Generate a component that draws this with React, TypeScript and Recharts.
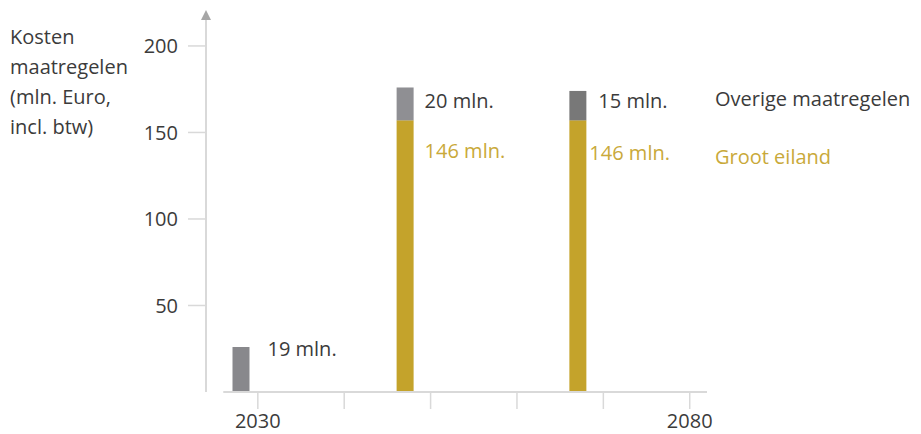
import React from 'react';
import { BarChart, Bar, XAxis, YAxis, Cell, LabelList, ReferenceLine, ReferenceDot } from 'recharts';

const years = [2028, 2047, 2067];
const grootEiland = [0, 157, 157];
const overige = [26, 19, 17];
const grootLabels = ['', '146 mln.', '146 mln.'];
const overigeLabels = ['19 mln.', '20 mln.', '15 mln.'];
const xTicks = [2030, 2040, 2050, 2060, 2070, 2080];
const xTickLabels = ['2030', '', '', '', '', '2080'];
const yTicks = [50, 100, 150, 200];
const yTitle = ['Kosten', 'maatregelen', '(mln. Euro,', 'incl. btw)'];
const seriesNames = ['Overige maatregelen', 'Groot eiland'];

const data = years.map((year, i) => ({
  year,
  groot: grootEiland[i],
  overige: overige[i],
  grootLabel: grootLabels[i],
  overigeLabel: overigeLabels[i],
}));

const FONT = '"Open Sans", Lato, sans-serif';
const FS = 20;
const TEXT = '#3b3b3b';
const GOLD_TEXT = '#c9a93a';
const GOLD = '#c4a32b';
const GRAYS = ['#88888c', '#8f8f93', '#787878'];
const AXIS = '#d9d9d9';

// label placement tweaks (style only), by bar position
const OVERIGE_DX = [18, 11, 12];
const OVERIGE_DY = [1, 13, 10];
const GROOT_DX = [0, 11, 3];
const GROOT_DY = [0, 30, 32];

const makeLabel = (color: string, labels: string[], dxs: number[], dys: number[]) => (props: any) => {
  const { x, y, width, value } = props;
  if (!value) return null;
  let i = -1;
  if (props.payload && props.payload.year !== undefined) i = years.indexOf(props.payload.year);
  if (i < 0) {
    const nonEmpty = labels.map((l, k) => (l ? k : -1)).filter((k) => k >= 0);
    const guess = nonEmpty[Math.min(nonEmpty.length - 1, Math.max(0, props.index ?? 0))];
    i = guess ?? 0;
  }
  return (
    <text
      x={Number(x) + Number(width) + dxs[i]}
      y={Number(y) + dys[i]}
      fill={color}
      fontSize={FS}
      fontFamily={FONT}
      dominantBaseline="central"
    >
      {value}
    </text>
  );
};

const Arrow = (props: any) => {
  const { cx, cy } = props;
  return <path d={`M${cx - 5},${cy} L${cx + 5},${cy} L${cx},${cy - 10} Z`} fill="#a6a6a6" />;
};

export default function App() {
  return (
    <div style={{ position: 'absolute', left: 0, top: 0, width: 921, height: 434, background: '#fff', fontFamily: FONT }}>
      <BarChart width={921} height={434} data={data} margin={{ top: 20, right: 214, bottom: 12, left: 146 }}>
        <XAxis
          dataKey="year"
          type="number"
          domain={[2024, 2082]}
          ticks={xTicks}
          tickFormatter={(v: number) => xTickLabels[xTicks.indexOf(v)] ?? ''}
          axisLine={false}
          tickLine={{ stroke: AXIS, strokeWidth: 1.5 }}
          tickSize={17}
          tickMargin={5}
          height={30}
          tick={{ fill: TEXT, fontSize: FS, fontFamily: FONT }}
          interval={0}
          allowDataOverflow
        />
        <YAxis
          type="number"
          domain={[0, 215]}
          ticks={yTicks}
          width={60}
          axisLine={{ stroke: AXIS, strokeWidth: 2 }}
          tickLine={{ stroke: AXIS, strokeWidth: 1.5 }}
          tickSize={18}
          tickMargin={10}
          tick={{ fill: TEXT, fontSize: FS, fontFamily: FONT }}
          interval={0}
          allowDataOverflow
        />
        <ReferenceLine segment={[{ x: 2026, y: 0 }, { x: 2082, y: 0 }]} stroke={AXIS} strokeWidth={2} ifOverflow="visible" />
        <ReferenceDot x={2024} y={215} r={0} shape={Arrow} ifOverflow="visible" />
        <Bar dataKey="groot" stackId="a" fill={GOLD} barSize={17} isAnimationActive={false}>
          <LabelList dataKey="grootLabel" content={makeLabel(GOLD_TEXT, grootLabels, GROOT_DX, GROOT_DY)} />
        </Bar>
        <Bar dataKey="overige" stackId="a" barSize={17} isAnimationActive={false}>
          {data.map((_, i) => (
            <Cell key={i} fill={GRAYS[i]} />
          ))}
          <LabelList dataKey="overigeLabel" content={makeLabel(TEXT, overigeLabels, OVERIGE_DX, OVERIGE_DY)} />
        </Bar>
      </BarChart>
      <div style={{ position: 'absolute', left: 10, top: 22, fontSize: FS, lineHeight: '30px', color: TEXT }}>
        {yTitle.map((t) => (
          <div key={t}>{t}</div>
        ))}
      </div>
      <div style={{ position: 'absolute', left: 715, top: 84, fontSize: FS, lineHeight: '30px' }}>
        <div style={{ color: TEXT }}>{seriesNames[0]}</div>
        <div style={{ color: GOLD_TEXT, marginTop: 28 }}>{seriesNames[1]}</div>
      </div>
    </div>
  );
}
